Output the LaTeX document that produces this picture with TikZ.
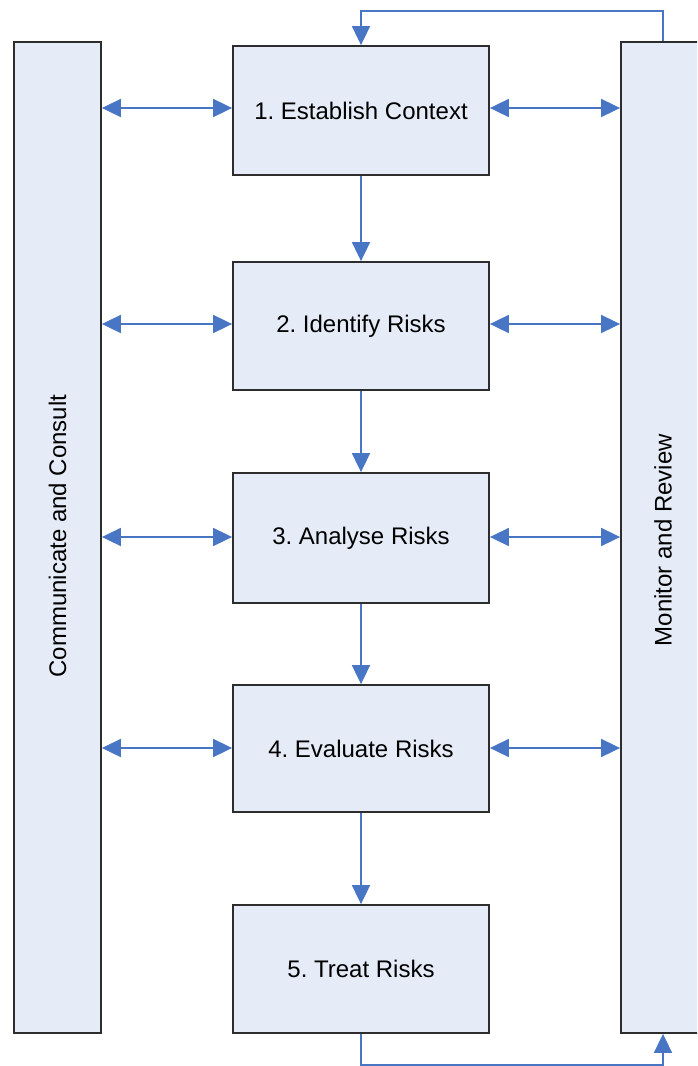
\documentclass[tikz,border=0pt]{standalone}
\usepackage{fontspec}
\setmainfont{Liberation Sans}
\usetikzlibrary{arrows.meta}
\definecolor{boxfill}{RGB}{230,236,247}
\definecolor{boxline}{RGB}{45,45,45}
\definecolor{arrowblue}{RGB}{72,118,196}
\frenchspacing
\begin{document}
\begin{tikzpicture}[x=1pt,y=-1pt,
  stagebox/.style={draw=boxline,line width=1.8pt,fill=boxfill,minimum width=256pt,inner sep=0pt,font=\fontsize{24}{28}\selectfont},
  sidebox/.style={draw=boxline,line width=1.8pt,fill=boxfill,inner sep=0pt},
  sidetext/.style={rotate=90,font=\fontsize{24}{28}\selectfont,inner sep=0pt},
  flow/.style={draw=arrowblue,line width=1.8pt,-{Triangle[length=19pt,width=18pt]}},
  both/.style={draw=arrowblue,line width=1.8pt,{Triangle[length=19pt,width=18pt]}-{Triangle[length=19pt,width=18pt]}}]
\useasboundingbox (0,0) rectangle (697,1066);
\clip (0,0) rectangle (697,1066);
% side boxes
\node[sidebox,minimum width=87pt,minimum height=991pt] (cc) at (57.5,537.5) {};
\node[sidetext] (cct) at (57.5,536) {Communicate and Consult};
\node[sidebox,minimum width=86pt,minimum height=991pt] (mr) at (664,537.5) {};
\node[sidetext] (mrt) at (663,540) {Monitor and Review};
% stage boxes
\node[stagebox,minimum height=129pt] (b1) at (361,110.5) {1. Establish Context};
\node[stagebox,minimum height=128pt] (b2) at (361,326) {2. Identify Risks};
\node[stagebox,minimum height=130pt] (b3) at (361,538) {3. Analyse Risks};
\node[stagebox,minimum height=127pt] (b4) at (361,748.5) {4. Evaluate Risks};
\node[stagebox,minimum height=128pt] (b5) at (361,969) {5. Treat Risks};
% vertical flow
\draw[flow] (b1) -- (b2);
\draw[flow] (b2) -- (b3);
\draw[flow] (b3) -- (b4);
\draw[flow] (b4) -- (b5);
% horizontal double arrows
\foreach \b/\yy in {b1/108,b2/324,b3/537,b4/748}{
  \draw[both] (cc.east |- 0,\yy) -- (\b.west |- 0,\yy);
  \draw[both] (\b.east |- 0,\yy) -- (mr.west |- 0,\yy);
}
% loops
\coordinate (mrtop) at (mr.north -| 663,0);
\coordinate (mrbot) at (mr.south -| 663,0);
\draw[flow] (mrtop) -- ++(0,-30) -| (b1.north);
\draw[flow] (b5.south) -- ++(0,31) -| (mrbot);
\end{tikzpicture}
\end{document}
